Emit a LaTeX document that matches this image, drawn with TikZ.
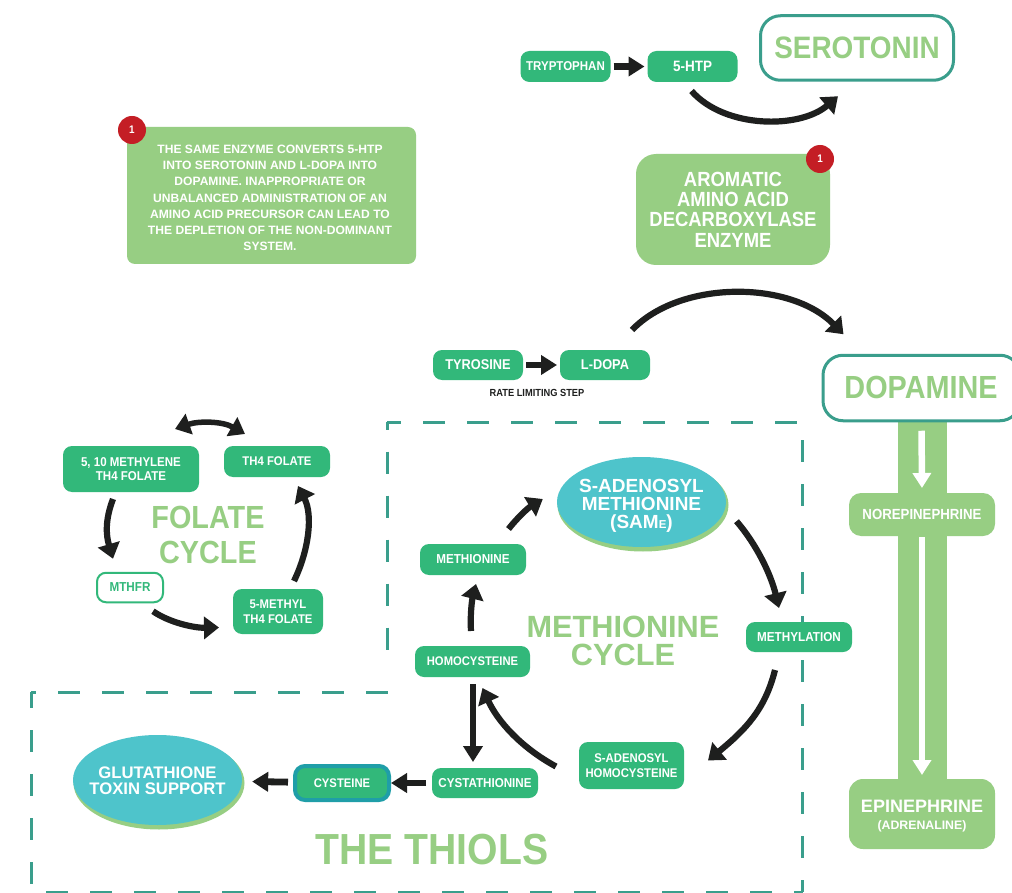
\documentclass[tikz,border=0pt]{standalone}
\usepackage{fontspec}
\setmainfont[FakeStretch=0.9]{Liberation Sans}
\newfontfamily\widef{Liberation Sans}
\usetikzlibrary{arrows.meta,calc,shapes.geometric}
\definecolor{gbox}{HTML}{32B87A}
\definecolor{lgreen}{HTML}{97CE83}
\definecolor{teal1}{HTML}{3A9E8C}
\definecolor{aqua}{HTML}{4EC4CB}
\definecolor{cysb}{HTML}{1F9EA8}
\definecolor{redb}{HTML}{C41E25}
\definecolor{ink}{HTML}{1E1F1E}
\newcommand{\fsz}[2]{\bfseries\fontsize{#1}{#2}\selectfont}
\tikzset{
  x=1pt,y=-1pt,
  boxwh/.style 2 args={minimum width=#1pt,minimum height=#2pt,inner sep=0pt,outer sep=0pt,align=center},
  gnode/.style={fill=gbox,rounded corners=9pt,text=white},
  lnode/.style={fill=lgreen,text=white},
  tealbox/.style={draw=teal1,line width=3pt,fill=white,rounded corners=20pt,text=lgreen},
  title/.style={text=lgreen,inner sep=0pt,align=center},
  badge/.style={circle,fill=redb,text=white,minimum size=28pt,inner sep=0pt,font=\fsz{11}{12}},
  oval/.style={ellipse,fill=aqua,inner sep=0pt},
  shadowoval/.style={ellipse,fill=lgreen,inner sep=0pt},
  ovaltext/.style={text=white,align=center,inner sep=0pt},
  arr/.style={draw=ink,line width=6.2pt,-{Triangle[length=15pt,width=22pt]}},
  biarr/.style={draw=ink,line width=5.5pt,{Triangle[length=15pt,width=21pt]}-{Triangle[length=15pt,width=21pt]}},
  flat/.style={draw=ink,line width=6.8pt,-{Triangle[length=16pt,width=19pt]}},
  warr/.style={draw=white,line width=6.5pt,-{Triangle[length=15pt,width=18pt]}},
  dashline/.style={draw=teal1,line width=3pt,dash pattern=on 22pt off 22pt},
}
\begin{document}
\begin{tikzpicture}
\useasboundingbox (0,0) rectangle (1012,893);
\clip (0,0) rectangle (1012,893);
\fill[white] (0,0) rectangle (1012,893);

% dashed frames
\draw[dashline,dash phase=14.5pt] (387,422) -- (387,668);
\draw[dashline,dash phase=8pt] (387,422) -- (803,422);
\draw[dashline] (802.5,440) -- (802.5,892);
\draw[dashline,dash phase=17pt] (31,692) -- (388,692);
\draw[dashline,dash phase=6pt] (31,692) -- (31,885);
\draw[dashline] (46,892) -- (803,892);

% descending bar
\fill[lgreen] (898,415) rectangle (947,800);

% top row
\node[gnode,boxwh={90}{31},font=\fsz{12.8}{13}] (tryp) at (565.5,66.5) {TRYPTOPHAN};
\node[gnode,boxwh={90}{31},font=\fsz{15}{15}] (htp) at (692.5,66.5) {5-HTP};
\node[tealbox,boxwh={193}{64.5},font=\fsz{31}{32}] (sero) at (857,48) {SEROTONIN};

% enzyme
\node[lnode,rounded corners=20pt,boxwh={194}{111},font=\fsz{20.5}{20.4}] (enz) at (733,209.5) {AROMATIC\\AMINO ACID\\DECARBOXYLASE\\ENZYME};
\node[badge] (b2) at (820,159) {1};

% note
\node[lnode,rounded corners=8pt,boxwh={289}{137}] (note) at (271.5,195.5) {};
\node[inner sep=0pt,text=white,align=center,font=\widef\fsz{12.1}{16.2}] (notet) at (270,198) {THE SAME ENZYME CONVERTS 5-HTP\\INTO SEROTONIN AND L-DOPA INTO\\DOPAMINE. INAPPROPRIATE OR\\UNBALANCED ADMINISTRATION OF AN\\AMINO ACID PRECURSOR CAN LEAD TO\\THE DEPLETION OF THE NON-DOMINANT\\SYSTEM.};
\node[badge] (b1) at (132,130) {1};

% tyrosine row
\node[gnode,boxwh={90}{30},font=\fsz{14.2}{14}] (tyr) at (478,365) {TYROSINE};
\node[gnode,boxwh={90}{30},font=\fsz{14.2}{14}] (ldopa) at (605,365) {L-DOPA};
\node[inner sep=0pt,text=ink,font=\fsz{10.3}{10}] (rate) at (537,393) {RATE LIMITING STEP};
\node[tealbox,boxwh={197}{65.5}] (dopa) at (921.5,388) {};
\node[title,font=\fsz{32}{32}] (dopat) at (921,387) {DOPAMINE};

% catecholamines
\node[lnode,rounded corners=12pt,boxwh={146}{43},font=\fsz{14.7}{14}] (nore) at (922,514.5) {NOREPINEPHRINE};
\node[lnode,rounded corners=14pt,boxwh={146}{70}] (epi) at (922,814) {};
\node[inner sep=0pt,text=white,align=center,font=\widef\fsz{18}{16.5}] (epit) at (922,816) {EPINEPHRINE\\{\fsz{12.3}{14}(ADRENALINE)}};

% folate cycle
\node[gnode,boxwh={136}{46},font=\fsz{12.8}{14.5}] (mthl) at (131,469) {5, 10 METHYLENE\\TH4 FOLATE};
\node[gnode,boxwh={106}{31},font=\fsz{12.6}{13}] (th4) at (277,461.5) {TH4 FOLATE};
\node[draw=gbox,line width=2pt,fill=white,rounded corners=9pt,text=gbox,boxwh={66}{29.5},font=\fsz{13}{13}] (mthfr) at (130,587.5) {MTHFR};
\node[gnode,boxwh={90}{45},font=\fsz{12.6}{14.5}] (methyl) at (278,611.5) {5-METHYL\\TH4 FOLATE};
\node[title,font=\fsz{32}{35}] (folate) at (208,534.5) {FOLATE\\CYCLE};

% methionine cycle
\node[shadowoval,minimum width=171pt,minimum height=93pt] (sames) at (643,505) {};
\node[oval,minimum width=169pt,minimum height=90pt] (same) at (641.5,502) {};
\node[ovaltext,font=\widef\fsz{19}{18}] (samet) at (641.5,506) {S-ADENOSYL\\METHIONINE\\(SAM{\fontsize{11.5}{12}\selectfont E})};
\node[gnode,boxwh={106}{31},font=\fsz{13}{13}] (met) at (473,559.5) {METHIONINE};
\node[gnode,boxwh={115}{31},font=\fsz{12.5}{13}] (hcy) at (472.5,661.5) {HOMOCYSTEINE};
\node[gnode,boxwh={106}{30},font=\fsz{13}{13}] (mly) at (799,637) {METHYLATION};
\node[gnode,boxwh={105}{47},font=\fsz{12.6}{15}] (sah) at (631.5,765.5) {S-ADENOSYL\\HOMOCYSTEINE};
\node[gnode,boxwh={106}{30},font=\fsz{12.9}{13}] (cyst) at (485,783) {CYSTATHIONINE};
\node[draw=cysb,line width=4pt,fill=gbox,rounded corners=10pt,text=white,boxwh={94}{34},font=\fsz{12.5}{13}] (cys) at (342,783) {CYSTEINE};
\node[shadowoval,minimum width=171pt,minimum height=93pt] (glus) at (159,783) {};
\node[oval,minimum width=169pt,minimum height=90pt] (glu) at (157.5,780) {};
\node[ovaltext,font=\widef\fsz{16.7}{16}] (glut) at (157.5,780.5) {GLUTATHIONE\\TOXIN SUPPORT};
\node[title,font=\widef\fsz{30.7}{28}] (metc) at (623,641) {METHIONINE\\CYCLE};
\node[title,font=\fsz{43.5}{44}] (thi) at (432,850) {THE THIOLS};

% straight block arrows
\draw[flat,shorten <=3pt,shorten >=3pt] (tryp) -- (htp);
\draw[flat,shorten <=3pt,shorten >=3pt] (tyr) -- (ldopa);
\draw[flat,shorten <=7pt,shorten >=6pt] (hcy.south -| 473,0) -- (cyst.north -| 473,0);
\draw[flat,shorten <=6pt,shorten >=2pt] (cyst) -- (cys);
\draw[flat,shorten <=7pt,shorten >=10pt] (cys) -- (glu);
\draw[warr,shorten <=10pt,shorten >=5pt] (dopa.south) -- (nore.north);
\draw[warr,shorten <=1pt,shorten >=4pt] (nore.south) -- (epi.north);

% curved arrows
\draw[arr] ($(htp.south)+(-1,9)$) .. controls (725,129) and (800,129) .. ($(sero.south)+(-19,16)$);
\draw[arr] ($(ldopa.north)+(27,-20)$) .. controls (680,280) and (790,280) .. ($(dopa.north)+(-78,-21)$);
\draw[biarr] ($(mthl.north)+(44,-17)$) .. controls (198,421) and (222,421) .. ($(th4.north)+(-32,-12)$);
\draw[arr] ($(mthl.south)+(-18,7)$) .. controls (105,520) and (106,535) .. ($(mthfr.north)+(-17,-14)$);
\draw[arr] ($(mthfr.south)+(23,9)$) .. controls (170,623) and (195,628) .. ($(methyl.west)+(-14,16)$);
\draw[arr] ($(methyl.north)+(16,-8)$) .. controls (309,550) and (313,515) .. ($(th4.south)+(21,9)$);
\draw[arr] ($(met.north)+(35.5,-15)$) .. controls (518,517) and (528,508) .. ($(same.west)+(-14,-3)$);
\draw[arr] ($(hcy.north)+(-1.5,-15)$) .. controls (470,615) and (472,600) .. ($(met.south)+(3,9)$);
\draw[arr] ($(same.south)+(95,-26)$) .. controls (757,545) and (771,575) .. ($(mly.north)+(-20,-14)$);
\draw[arr] ($(mly.south)+(-24,18)$) .. controls (765,710) and (745,730) .. ($(sah.east)+(24,-5)$);
\draw[arr] ($(sah.west)+(-23,1)$) .. controls (520,747) and (497,720) .. ($(hcy.south)+(10,11)$);
\end{tikzpicture}
\end{document}
